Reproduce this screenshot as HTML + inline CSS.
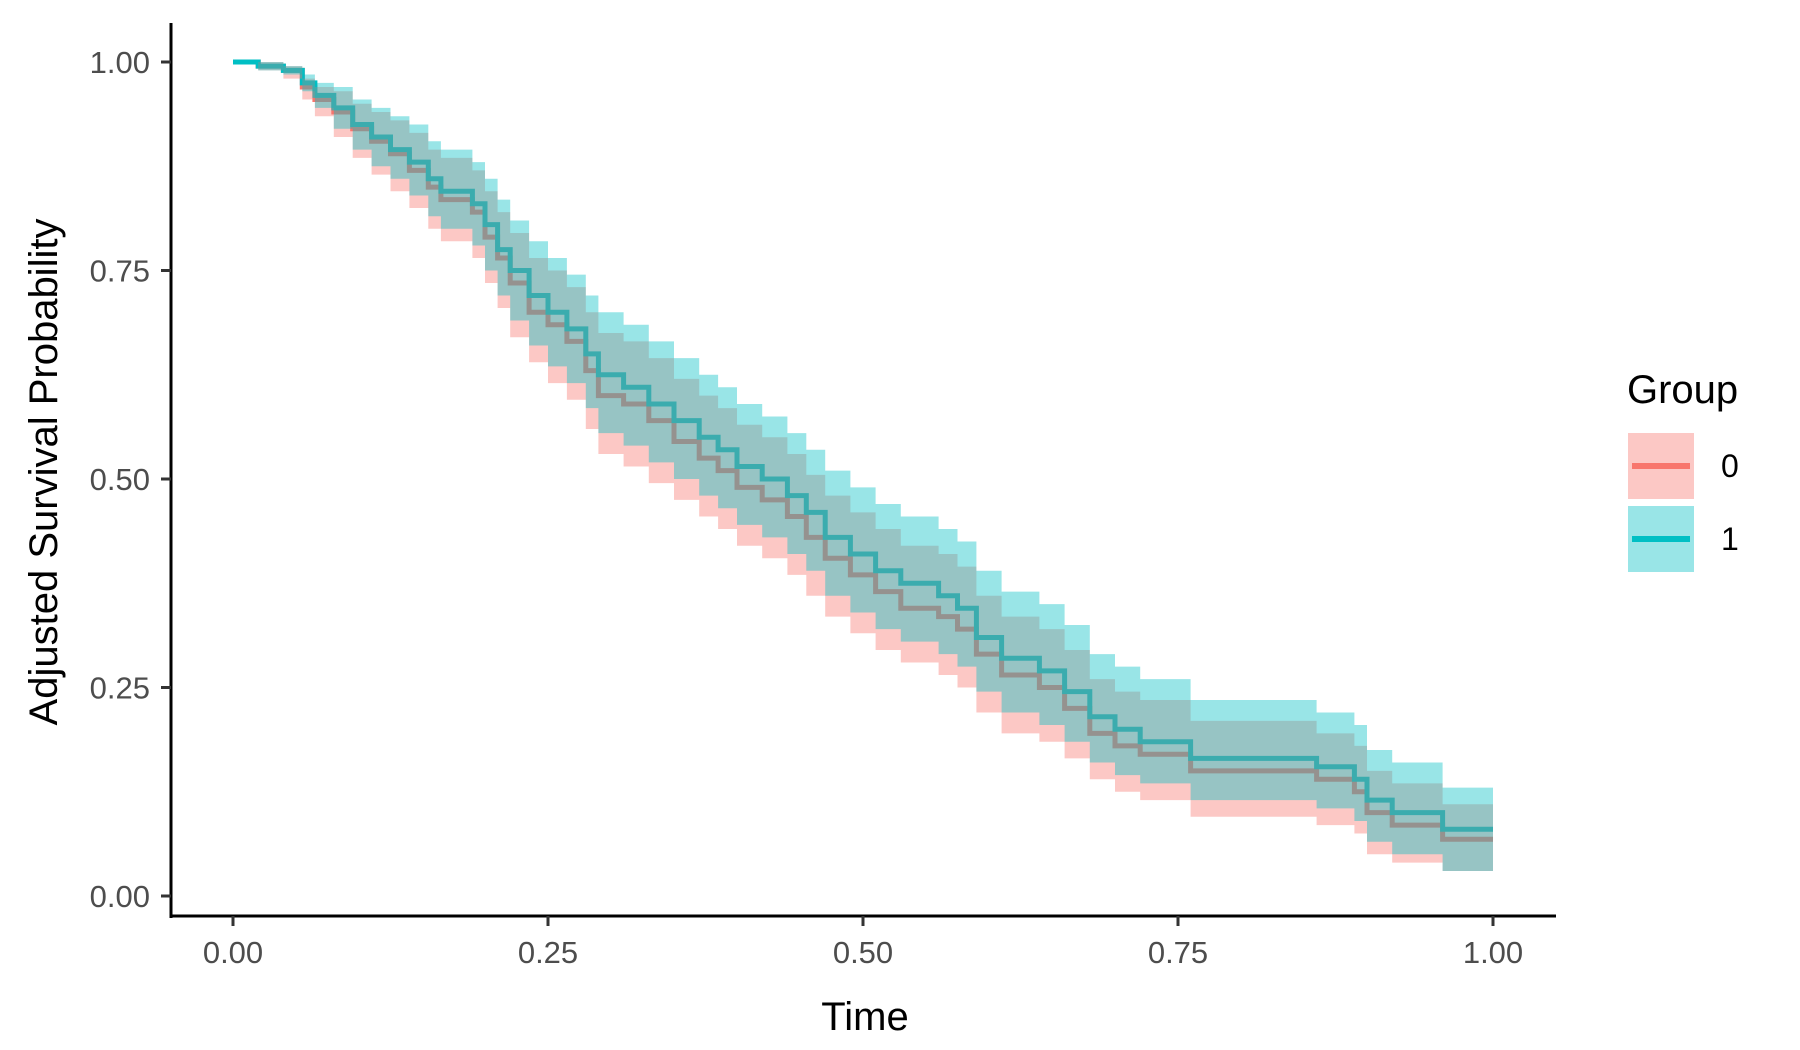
<!DOCTYPE html>
<html><head><meta charset="utf-8"><style>
html,body{margin:0;padding:0;background:#fff;}
svg{display:block;font-family:"Liberation Sans",Arial,sans-serif;}
</style></head><body>
<svg id="chart" width="1800" height="1050" viewBox="0 0 1800 1050" xmlns="http://www.w3.org/2000/svg">
<g id="plot"></g>
<g id="axes"></g>
<text x="0" y="0" transform="translate(57,472) rotate(-90)" text-anchor="middle" font-size="40" fill="#000">Adjusted Survival Probability</text>
<text x="865" y="1030" text-anchor="middle" font-size="40" fill="#000">Time</text>
<g>
<text x="1627" y="403" font-size="40" fill="#000">Group</text>
<g>
<rect x="1628" y="433" width="66" height="66" fill="#F8766D" fill-opacity="0.4"/>
<line x1="1632" x2="1690" y1="466" y2="466" stroke="#F8766D" stroke-width="6"/>
<text x="1721" y="477" font-size="32" fill="#000">0</text></g>
<g>
<rect x="1628" y="506" width="66" height="66" fill="#00BFC4" fill-opacity="0.4"/>
<line x1="1632" x2="1690" y1="539" y2="539" stroke="#00BFC4" stroke-width="6"/>
<text x="1721" y="550" font-size="32" fill="#000">1</text></g>
</g>
</svg>
<script>
const times=[0,0.02,0.04,0.055,0.065,0.08,0.095,0.11,0.125,0.14,0.155,0.165,0.19,0.2,0.21,0.22,0.235,0.25,0.265,0.28,0.29,0.31,0.33,0.35,0.37,0.385,0.4,0.42,0.44,0.455,0.47,0.49,0.51,0.53,0.56,0.575,0.59,0.61,0.64,0.66,0.68,0.7,0.72,0.76,0.86,0.89,0.9,0.92,0.96];
const surv1=[1.0,0.995,0.99,0.975,0.96,0.945,0.925,0.91,0.895,0.88,0.86,0.845,0.83,0.805,0.775,0.75,0.72,0.70,0.68,0.65,0.625,0.61,0.59,0.57,0.55,0.535,0.515,0.5,0.48,0.46,0.43,0.41,0.39,0.375,0.36,0.345,0.31,0.285,0.27,0.245,0.215,0.2,0.185,0.165,0.155,0.14,0.115,0.1,0.08];
const hi1=[1.0,1.0,0.995,0.985,0.975,0.97,0.955,0.945,0.935,0.925,0.905,0.895,0.88,0.86,0.835,0.81,0.785,0.765,0.745,0.72,0.70,0.685,0.665,0.645,0.625,0.61,0.59,0.575,0.555,0.535,0.51,0.49,0.47,0.455,0.44,0.425,0.39,0.365,0.35,0.325,0.29,0.275,0.26,0.235,0.22,0.205,0.175,0.16,0.13];
const lo1=[1.0,0.99,0.985,0.965,0.945,0.92,0.895,0.875,0.86,0.84,0.815,0.8,0.78,0.75,0.72,0.69,0.66,0.635,0.615,0.585,0.555,0.54,0.52,0.5,0.48,0.465,0.445,0.43,0.41,0.39,0.36,0.34,0.32,0.305,0.29,0.275,0.245,0.22,0.205,0.185,0.16,0.145,0.135,0.115,0.105,0.09,0.065,0.05,0.03];
const surv0=[1.0,0.995,0.99,0.97,0.955,0.94,0.92,0.905,0.89,0.87,0.85,0.835,0.82,0.79,0.765,0.735,0.70,0.685,0.665,0.63,0.60,0.59,0.57,0.545,0.525,0.51,0.49,0.475,0.455,0.43,0.405,0.385,0.365,0.345,0.335,0.32,0.29,0.265,0.25,0.225,0.195,0.18,0.17,0.15,0.14,0.125,0.1,0.085,0.068];
const hi0=[1.0,1.0,0.995,0.98,0.97,0.965,0.95,0.94,0.93,0.915,0.895,0.885,0.87,0.845,0.82,0.795,0.765,0.75,0.73,0.70,0.675,0.665,0.645,0.62,0.6,0.585,0.565,0.55,0.53,0.505,0.48,0.46,0.44,0.42,0.41,0.395,0.36,0.335,0.32,0.295,0.26,0.245,0.235,0.21,0.195,0.18,0.15,0.135,0.11];
const lo0=[1.0,0.99,0.98,0.955,0.935,0.91,0.885,0.865,0.845,0.825,0.8,0.785,0.765,0.735,0.705,0.67,0.64,0.615,0.595,0.56,0.53,0.515,0.495,0.475,0.455,0.44,0.42,0.405,0.385,0.36,0.335,0.315,0.295,0.28,0.265,0.25,0.22,0.195,0.185,0.165,0.14,0.125,0.115,0.095,0.085,0.075,0.05,0.04,0.03];
const tMax=1.0;
const xTicks=["0.00","0.25","0.50","0.75","1.00"];
const yTicks=["0.00","0.25","0.50","0.75","1.00"];

const NS="http://www.w3.org/2000/svg";
const X=t=>233+1260*t;
const Y=v=>896-834*v;
function stepPts(arr){
  const p=[];
  for(let i=0;i<times.length;i++){
    const xe=i+1<times.length?times[i+1]:tMax;
    p.push([X(times[i]),Y(arr[i])],[X(xe),Y(arr[i])]);
  }
  return p;
}
function mk(tag,attrs,parent){const e=document.createElementNS(NS,tag);for(const k in attrs)e.setAttribute(k,attrs[k]);parent.appendChild(e);return e;}
const plot=document.getElementById('plot');
const axes=document.getElementById('axes');

[[surv0,'#F8766D','survival-line-0'],[surv1,'#00BFC4','survival-line-1']].forEach(([s,c,n])=>{
  const pts=stepPts(s).map(p=>p.join(',')).join(' ');
  const el=mk('polyline',{points:pts,fill:'none',stroke:c,'stroke-width':5,'stroke-linejoin':'miter'},plot);
  
  
});
[[hi0,lo0,'#F8766D','ci-band-0'],[hi1,lo1,'#00BFC4','ci-band-1']].forEach(([h,l,c,n])=>{
  const up=stepPts(h),dn=stepPts(l).reverse();
  const pts=up.concat(dn).map(p=>p.join(',')).join(' ');
  const el=mk('polygon',{points:pts,fill:c,'fill-opacity':0.4,stroke:'none'},plot);
  
  
});

// axes
const ya=mk('line',{x1:171,x2:171,y1:23,y2:918,stroke:'#000','stroke-width':3},axes);


const xa=mk('line',{x1:169.5,x2:1556,y1:916,y2:916,stroke:'#000','stroke-width':3},axes);


yTicks.forEach(lbl=>{
  const v=parseFloat(lbl),y=Y(v);
  const tk=mk('line',{x1:161,x2:171,y1:y,y2:y,stroke:'#333','stroke-width':3},axes);
  
  
  const t=mk('text',{x:150,y:y+11,'text-anchor':'end','font-size':31,fill:'#4d4d4d'},axes);
  t.textContent=lbl;
  
  
});
xTicks.forEach(lbl=>{
  const v=parseFloat(lbl),x=X(v);
  const tk=mk('line',{x1:x,x2:x,y1:916,y2:926,stroke:'#333','stroke-width':3},axes);
  
  
  const t=mk('text',{x:x,y:963,'text-anchor':'middle','font-size':31,fill:'#4d4d4d'},axes);
  t.textContent=lbl;
  
  
});
</script>
</body></html>
